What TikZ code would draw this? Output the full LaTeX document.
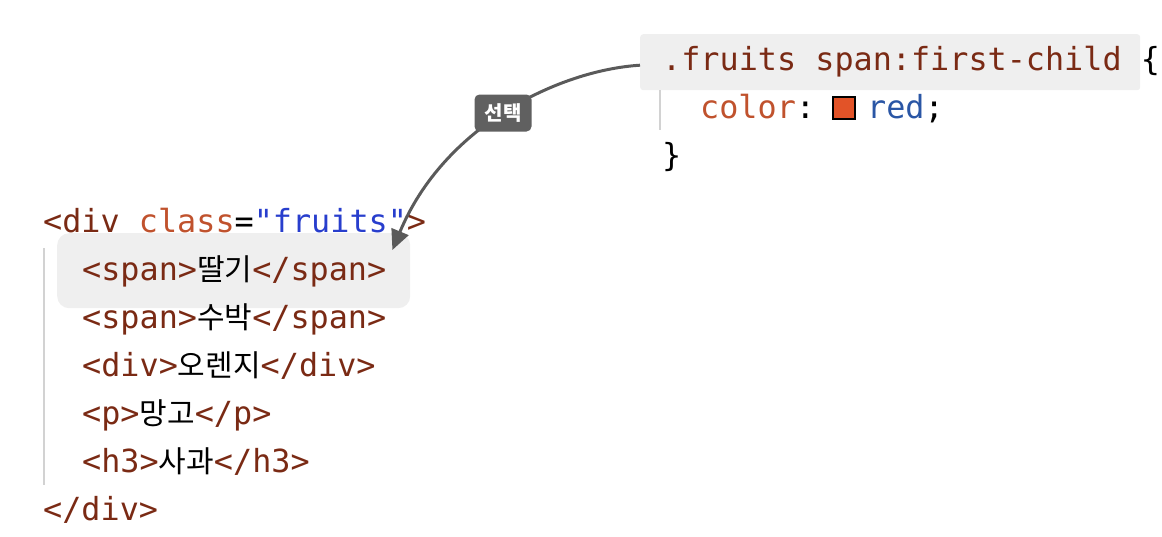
\documentclass[tikz,border=0pt]{standalone}
\usepackage{fontspec}
\setmonofont{DejaVu Sans Mono}
\newfontfamily\kr{Noto Sans CJK KR}
\usetikzlibrary{arrows.meta,calc}
\definecolor{tagc}{RGB}{122,42,20}
\definecolor{attrc}{RGB}{192,82,45}
\definecolor{strc}{RGB}{40,62,205}
\definecolor{valc}{RGB}{42,86,165}
\definecolor{swc}{RGB}{226,83,40}
\definecolor{hlgray}{RGB}{239,239,239}
\definecolor{guide}{RGB}{210,210,210}
\definecolor{arrc}{RGB}{90,90,90}
\definecolor{lblc}{RGB}{96,96,96}
\newcommand{\codef}{\ttfamily\fontsize{31.8}{48}\selectfont}
\newcommand{\hg}[1]{{\kr\fontsize{30}{30}\selectfont\color{black}#1}}
\newcommand{\tg}[1]{{\color{tagc}#1}}
\begin{document}
\begin{tikzpicture}[x=1pt,y=1pt,
  code/.style={inner sep=0pt,anchor=base west,font=\codef,text=black},
  hlbox/.style={fill=hlgray,draw=none,inner sep=0pt,anchor=north west},
  guideline/.style={draw=guide,line width=2pt},
  swatch/.style={fill=swc,draw=black,line width=1.3pt,minimum size=22pt,inner sep=0pt},
  lblbox/.style={fill=lblc,text=white,rounded corners=5pt,minimum width=57pt,minimum height=37pt,inner sep=0pt,font={\kr\bfseries\fontsize{20}{20}\selectfont}},
  arr/.style={draw=arrc,line width=3pt,-{Triangle[length=20pt,width=18pt]}}]
\useasboundingbox (0,0) rectangle (1162,-536);
% highlight boxes
\node[hlbox,rounded corners=3pt,minimum width=500pt,minimum height=56pt] (cssbox) at (640,-34) {};
\node[hlbox,rounded corners=12pt,minimum width=353pt,minimum height=75pt] (hl) at (57,-233) {};
% guide lines
\draw[guideline] (660,-90) -- (660,-130);
\draw[guideline] (44,-248) -- (44,-485);
% CSS
\node[code] (sel) at (662,-70) {\tg{.fruits span:first-child} \{};
\node[code] (prop) at (700,-118) {{\color{attrc}color}:};
\node[swatch] (sw) at (844,-108) {};
\node[code] (val) at (867,-118) {{\color{valc}red};};
\node[code] (close) at (662,-166) {\}};
% HTML
\node[code] (l1) at (43,-232) {\tg{<div} {\color{attrc}class}={\color{strc}"fruits"}\tg{>}};
\node[code] (l2) at (82,-280) {\tg{<span>}\hg{딸기}\tg{</span>}};
\node[code] (l3) at (82,-328) {\tg{<span>}\hg{수박}\tg{</span>}};
\node[code] (l4) at (82,-376) {\tg{<div>}\hg{오렌지}\tg{</div>}};
\node[code] (l5) at (82,-424) {\tg{<p>}\hg{망고}\tg{</p>}};
\node[code] (l6) at (82,-472) {\tg{<h3>}\hg{사과}\tg{</h3>}};
\node[code] (l7) at (43,-520) {\tg{</div>}};
% arrow
\coordinate (tip) at ($(hl.north east)+(-18,-17)$);
\draw[arr] ($(cssbox.west)+(0,-3)$) .. controls +(-80,-5) and +(52,125) .. (tip);
\node[lblbox] (lbl) at (503,-113) {선택};
\end{tikzpicture}
\end{document}
